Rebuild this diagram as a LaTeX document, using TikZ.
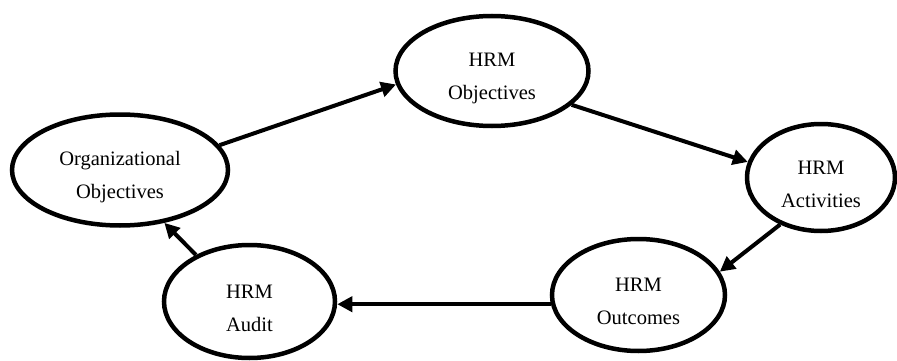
\documentclass[tikz,border=0pt]{standalone}
\usepackage{fontspec}
\setmainfont{Liberation Serif}
\usetikzlibrary{shapes.geometric,arrows.meta}
\tikzset{
  oval/.style={ellipse, draw=black, line width=4.5pt, inner sep=0pt},
  lbl/.style={align=center, inner sep=0pt, font=\fontsize{20.5}{33}\selectfont},
  arr/.style={line width=4pt, -{Triangle[length=15pt,width=15pt]}}
}
\begin{document}
\begin{tikzpicture}[x=1pt,y=-1pt]
\useasboundingbox (0,0) rectangle (897,361);
% ellipses
\node[oval, minimum width=216pt, minimum height=111pt] (org) at (120,170) {};
\node[oval, minimum width=193pt, minimum height=110pt] (obj) at (492,71) {};
\node[oval, minimum width=148pt, minimum height=107pt] (act) at (821,177.5) {};
\node[oval, minimum width=173pt, minimum height=112pt] (out) at (638.5,295) {};
\node[oval, minimum width=171pt, minimum height=113pt] (aud) at (249.5,301.5) {};
% texts
\node[lbl] (orgt) at ([yshift=-7pt]org.center) {Organizational\\Objectives};
\node[lbl] (objt) at ([yshift=-7pt]obj.center) {HRM\\Objectives};
\node[lbl] (actt) at ([yshift=-7pt]act.center) {HRM\\Activities};
\node[lbl] (outt) at ([yshift=-6pt]out.center) {HRM\\Outcomes};
\node[lbl] (audt) at ([yshift=-7pt]aud.center) {HRM\\Audit};
% connectors
\draw[arr] (org.14) -- (obj.188);
\draw[arr] (obj.-23) -- (act.168);
\draw[arr] (act.229) -- (out.16);
\draw[arr] (out.186) -- (aud.east |- out.186);
\draw[arr] (aud.139) -- (org.310);
\end{tikzpicture}
\end{document}
